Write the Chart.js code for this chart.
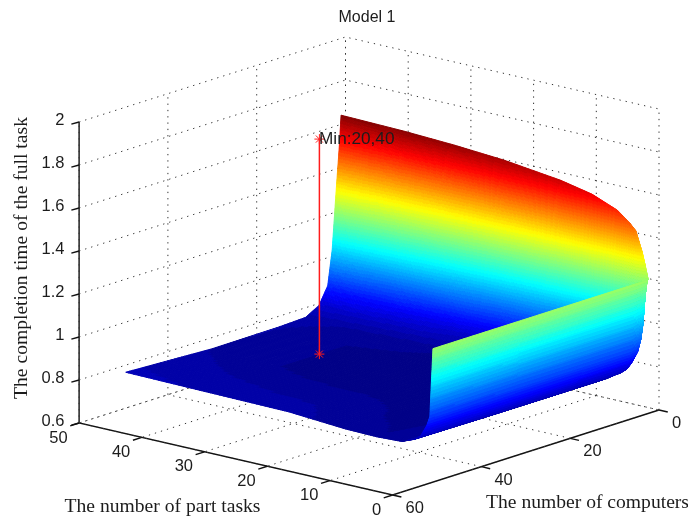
<!DOCTYPE html>
<html><head><meta charset="utf-8">
<style>html,body{margin:0;padding:0;background:#fff}#w{width:688px;height:521px;position:relative}canvas{display:block}</style>
<script src="https://cdn.jsdelivr.net/npm/chart.js@4"></script>
</head><body><div id="w"><canvas id="c" width="688" height="521"></canvas></div>
<script>
const chartTitle = "Model 1";
const computerAxisTitle = "The number of computers";
const taskAxisTitle = "The number of part tasks";
const timeAxisTitle = "The completion time of the full task";
const computerTicks = [0, 20, 40, 60];
const taskTicks = [0, 10, 20, 30, 40, 50];
const timeTicks = [0.6, 0.8, 1, 1.2, 1.4, 1.6, 1.8, 2];
const computerValues = [1, 1.25, 1.5, 2, 3, 4, 6, 9, 15, 30, 49.5];
const taskValues = [50, 40, 32, 24, 15, 10, 6, 4, 3, 2, 1.5, 1];
const completionTime = [
  [1.643,1.55,1.47,1.33,1.03,.87,.79,.755,.75,.748,.767],
  [1.636,1.50,1.38,1.18,.92,.83,.78,.745,.735,.735,.763],
  [1.625,1.44,1.28,1.05,.86,.80,.77,.74,.73,.73,.76],
  [1.608,1.35,1.12,.92,.81,.77,.75,.73,.725,.73,.757],
  [1.575,1.25,1.0,.84,.77,.75,.735,.725,.725,.73,.738],
  [1.544,1.15,.93,.80,.75,.74,.73,.725,.725,.73,.735],
  [1.497,1.08,.88,.78,.745,.74,.73,.73,.73,.735,.74],
  [1.45,1.02,.86,.79,.765,.765,.76,.76,.76,.76,.763],
  [1.42,1.00,.88,.81,.79,.785,.785,.785,.785,.785,.784],
  [1.33,1.05,.95,.87,.85,.84,.84,.84,.84,.84,.84],
  [1.27,1.10,1.0,.93,.90,.89,.89,.89,.89,.89,.886],
  [1.205,1.205,1.205,1.205,1.205,1.205,1.205,1.205,1.205,1.205,1.205]
];
const minComputers = 20, minTasks = 40, minTimeLow = 0.724, minTimeHigh = 1.724;
const minLabel = "Min:20,40";
const colorLow = 0.72, colorHigh = 1.643;

// Oblique projection of the (computers, tasks, time) box onto the page plane.
function project(c, t, z) {
  return {
    x: 659 - 4.44 * c - 6.27 * t,
    y: 410 + 1.417 * c - 1.44 * t - 215 * (z - 0.6)
  };
}
const zMin = 0.6, zMax = 2, cMax = 60, tMax = 50;

function jet(v) {
  const q = Math.max(0, Math.min(63, Math.floor(v * 64))) ;
  const u = (q + 0.5) / 64;
  const f = k => Math.round(255 * Math.max(0, Math.min(1, 1.5 - Math.abs(4 * u - k))));
  return `rgb(${f(3)},${f(2)},${f(1)})`;
}

const datasets = [];
const minPts = [project(minComputers, minTasks, minTimeLow), project(minComputers, minTasks, minTimeHigh)];
datasets.push({label:'stem', type:'scatter', showLine:true, data:minPts, borderColor:'#ff1c1c', borderWidth:1.5,
  pointStyle:'star', pointRadius:5, pointBorderColor:'#ff1c1c', pointBorderWidth:1, order:0});

taskValues.forEach((t, i) => datasets.push({
  label:'tasks ' + t, type:'scatter', showLine:false, pointRadius:0, order:1, surfaceRow:i,
  data: computerValues.map((c, j) => project(c, t, completionTime[i][j]))
}));

function gridLine(points) {
  datasets.push({label:'grid', type:'scatter', showLine:true, pointRadius:0, order:2,
    borderColor:'#333', borderWidth:1, borderDash:[1.3,5], data:points});
}
timeTicks.forEach(z => gridLine([project(cMax,tMax,z), project(0,tMax,z), project(0,0,z)]));
computerTicks.forEach(c => { gridLine([project(c,tMax,zMin), project(c,tMax,zMax)]);
                             gridLine([project(c,0,zMin), project(c,tMax,zMin)]); });
taskTicks.forEach(t => { gridLine([project(0,t,zMin), project(0,t,zMax)]);
                         gridLine([project(0,t,zMin), project(cMax,t,zMin)]); });

function axisLine(points) {
  datasets.push({label:'axis', type:'scatter', showLine:true, pointRadius:0, order:2,
    borderColor:'#111', borderWidth:1.4, spanGaps:false, data:points});
}
axisLine([project(cMax,tMax,zMax), project(cMax,tMax,zMin), project(cMax,0,zMin), project(0,0,zMin)]);
timeTicks.forEach(z => axisLine([project(cMax,tMax,z), project(cMax+1.6,tMax+0.1,z)]));
taskTicks.forEach(t => axisLine([project(cMax,t,zMin), project(cMax+2,t,zMin)]));
computerTicks.forEach(c => axisLine([project(c,0,zMin), project(c,-1.4,zMin)]));

const surfacePlugin = {
  id:'surface',
  beforeDatasetDraw(chart, args) {
    if (chart.data.datasets[args.index].label !== 'stem') return;
    const ctx = chart.ctx;
    const rows = chart.data.datasets.map((d, i) => d.surfaceRow !== undefined ? chart.getDatasetMeta(i) : null).filter(Boolean);
    ctx.save();
    ctx.lineWidth = 1; ctx.lineJoin = 'round';
    for (let i = 0; i < rows.length - 1; i++) {
      for (let j = 0; j < computerValues.length - 1; j++) {
        const a = rows[i].data[j], b = rows[i].data[j+1], d = rows[i+1].data[j], e = rows[i+1].data[j+1];
        const za = completionTime[i][j], zb = completionTime[i][j+1], zd = completionTime[i+1][j], ze = completionTime[i+1][j+1];
        const ext = Math.max(Math.abs(a.x-e.x), Math.abs(a.y-e.y), Math.abs(b.x-d.x), Math.abs(b.y-d.y));
        const dzv = Math.max(za,zb,zd,ze) - Math.min(za,zb,zd,ze);
        const n = Math.min(70, Math.max(1, Math.ceil(Math.max(ext / 6, dzv * 120))));
        const P = (u, v) => ({
          x: (1-u)*(1-v)*a.x + u*(1-v)*b.x + (1-u)*v*d.x + u*v*e.x,
          y: (1-u)*(1-v)*a.y + u*(1-v)*b.y + (1-u)*v*d.y + u*v*e.y,
          z: (1-u)*(1-v)*za + u*(1-v)*zb + (1-u)*v*zd + u*v*ze
        });
        for (let q = 0; q < n; q++) for (let p = 0; p < n; p++) {
          const c1 = P(p/n,q/n), c2 = P((p+1)/n,q/n), c3 = P((p+1)/n,(q+1)/n), c4 = P(p/n,(q+1)/n);
          const col = jet((P((p+.5)/n,(q+.5)/n).z - colorLow) / (colorHigh - colorLow));
          ctx.fillStyle = col; ctx.strokeStyle = col;
          ctx.beginPath(); ctx.moveTo(c1.x,c1.y); ctx.lineTo(c2.x,c2.y); ctx.lineTo(c3.x,c3.y); ctx.lineTo(c4.x,c4.y); ctx.closePath();
          ctx.fill(); ctx.stroke();
        }
      }
    }
    ctx.restore();
  },
  afterDraw(chart) {
    const ctx = chart.ctx, X = chart.scales.x, Y = chart.scales.y;
    const at = p => ({x: X.getPixelForValue(p.x), y: Y.getPixelForValue(p.y)});
    ctx.save();
    ctx.fillStyle = '#1c1c1c'; ctx.textBaseline = 'middle';
    ctx.font = '16.5px "Liberation Sans"'; ctx.textAlign = 'right';
    timeTicks.forEach(z => { const p = at(project(cMax,tMax,z)); ctx.fillText(String(z), 64.5, p.y - 2); });
    taskTicks.forEach(t => { const p = at(project(cMax,t,zMin)); ctx.fillText(String(t), p.x - 11.5, p.y + 15); });
    ctx.textAlign = 'left';
    computerTicks.forEach(c => { const p = at(project(c,0,zMin)); ctx.fillText(String(c), p.x + 13, p.y + 13.5); });
    ctx.font = '17.2px "Liberation Sans"';
    ctx.fillText(minLabel, 319, 139);
    ctx.textAlign = 'center'; ctx.font = '16px "Liberation Sans"';
    ctx.fillText(chartTitle, 367, 18);
    ctx.font = '19.6px "Liberation Serif"';
    ctx.fillText(taskAxisTitle, 162.5, 507);
    ctx.fillText(computerAxisTitle, 587.5, 503);
    ctx.translate(22, 258); ctx.rotate(-Math.PI/2);
    ctx.fillText(timeAxisTitle, 0, 0);
    ctx.restore();
  }
};

new Chart(document.getElementById('c'), {
  type:'scatter',
  data:{datasets},
  options:{
    responsive:false, animation:false, devicePixelRatio:1,
    layout:{padding:0, autoPadding:false},
    plugins:{legend:{display:false}, tooltip:{enabled:false}, title:{display:false}},
    scales:{
      x:{type:'linear', min:0, max:688, display:false},
      y:{type:'linear', min:0, max:521, reverse:true, display:false}
    },
    elements:{line:{tension:0}}
  },
  plugins:[surfacePlugin]
});
</script></body></html>
